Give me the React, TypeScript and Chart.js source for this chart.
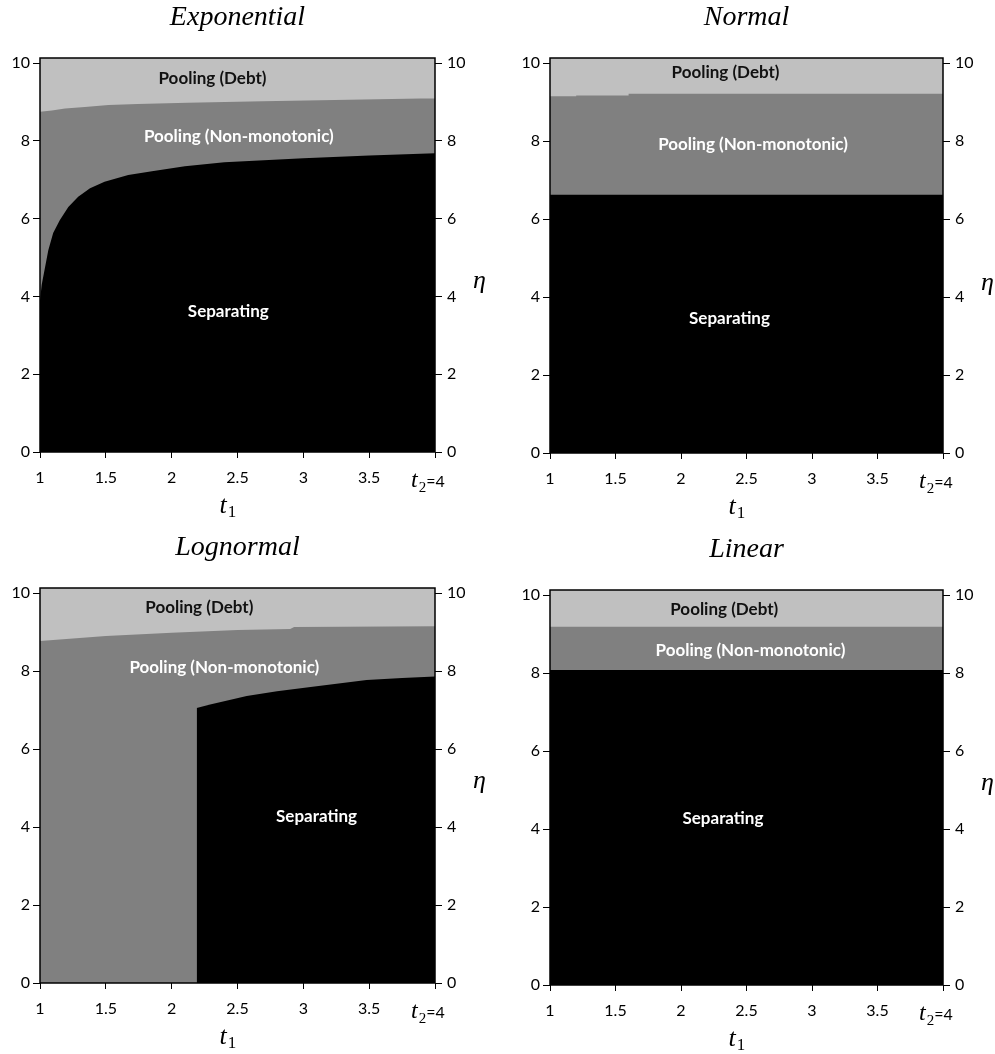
import React, { useEffect, useRef } from "react";
import { Chart, registerables } from "chart.js";
Chart.register(...registerables);

// ---------- data ----------
const T1_TICKS = [1, 1.5, 2, 2.5, 3, 3.5, 4];
const ETA_TICKS = [0, 2, 4, 6, 8, 10];
const ETA_MIN = 0;
const ETA_MAX = 10.13;

// Exponential
const expSepT1 = [1.0, 1.013, 1.03, 1.063, 1.1, 1.15, 1.215, 1.29, 1.38, 1.49, 1.67, 1.85, 2.1, 2.4, 2.7, 3.0, 3.5, 4.0];
const expSep = [3.9, 4.3, 4.6, 5.19, 5.63, 5.96, 6.3, 6.56, 6.78, 6.95, 7.12, 7.22, 7.35, 7.45, 7.5, 7.55, 7.62, 7.68];
const expDebtT1 = [1.0, 1.09, 1.19, 1.34, 1.52, 1.74, 2.12, 2.69, 3.89, 4.0];
const expDebt = [8.75, 8.78, 8.83, 8.87, 8.92, 8.95, 8.98, 9.02, 9.09, 9.09];

// Normal
const normSepT1 = [1.0, 4.0];
const normSep = [6.62, 6.62];
const normDebtT1 = [1.0, 1.2, 1.6, 2.33, 4.0];
const normDebt = [9.12, 9.15, 9.17, 9.21, 9.21];

// Lognormal
const logSepT1 = [2.19, 2.3, 2.57, 2.8, 3.07, 3.48, 3.75, 4.0];
const logSep = [7.05, 7.15, 7.36, 7.48, 7.6, 7.77, 7.82, 7.86];
const logDebtT1 = [1.0, 1.5, 2.0, 2.5, 2.9, 2.93, 4.0];
const logDebt = [8.77, 8.9, 8.98, 9.05, 9.08, 9.13, 9.15];

// Linear
const linSepT1 = [1.0, 4.0];
const linSep = [8.08, 8.08];
const linDebtT1 = [1.0, 4.0];
const linDebt = [9.19, 9.19];

const zip = (xs: number[], ys: number[]) => xs.map((x, i) => ({ x, y: ys[i] }));

// ---------- panels ----------
type Label = { text: string; x: number; y: number; color: string };
type PanelCfg = {
  title: string;
  left: number;
  top: number;
  plot: { l: number; r: number; t: number; b: number };
  sep: { x: number; y: number }[];
  debt: { x: number; y: number }[];
  debtStepped: boolean;
  labels: Label[];
  etaY: number;
};

const CW = 497;
const CH = 527;

const panels: PanelCfg[] = [
  {
    title: "Exponential",
    left: 0,
    top: 0,
    plot: { l: 40, r: 435, t: 58, b: 452 },
    sep: zip(expSepT1, expSep),
    debt: zip(expDebtT1, expDebt),
    debtStepped: false,
    labels: [
      { text: "Pooling (Debt)", x: 2.31, y: 9.61, color: "#111" },
      { text: "Pooling (Non-monotonic)", x: 2.51, y: 8.1, color: "#fff" },
      { text: "Separating", x: 2.43, y: 3.62, color: "#fff" },
    ],
    etaY: 281,
  },
  {
    title: "Normal",
    left: 498,
    top: 0,
    plot: { l: 52, r: 445, t: 58, b: 453 },
    sep: zip(normSepT1, normSep),
    debt: zip(normDebtT1, normDebt),
    debtStepped: true,
    labels: [
      { text: "Pooling (Debt)", x: 2.34, y: 9.77, color: "#111" },
      { text: "Pooling (Non-monotonic)", x: 2.55, y: 7.9, color: "#fff" },
      { text: "Separating", x: 2.37, y: 3.46, color: "#fff" },
    ],
    etaY: 283,
  },
  {
    title: "Lognormal",
    left: 0,
    top: 527,
    plot: { l: 40, r: 435, t: 61, b: 456 },
    sep: zip(logSepT1, logSep),
    debt: zip(logDebtT1, logDebt),
    debtStepped: false,
    labels: [
      { text: "Pooling (Debt)", x: 2.21, y: 9.64, color: "#111" },
      { text: "Pooling (Non-monotonic)", x: 2.4, y: 8.09, color: "#fff" },
      { text: "Separating", x: 3.1, y: 4.28, color: "#fff" },
    ],
    etaY: 254,
  },
  {
    title: "Linear",
    left: 498,
    top: 527,
    plot: { l: 52, r: 445, t: 63, b: 458 },
    sep: zip(linSepT1, linSep),
    debt: zip(linDebtT1, linDebt),
    debtStepped: false,
    labels: [
      { text: "Pooling (Debt)", x: 2.33, y: 9.64, color: "#111" },
      { text: "Pooling (Non-monotonic)", x: 2.53, y: 8.59, color: "#fff" },
      { text: "Separating", x: 2.32, y: 4.28, color: "#fff" },
    ],
    etaY: 256,
  },
];

const TICK_FONT = { family: "Lato, 'Open Sans', sans-serif", size: 16 };
const SERIF_IT = "italic 28px 'Liberation Serif', serif";

function makeDecor(cfg: PanelCfg) {
  return {
    id: "decor",
    beforeDatasetsDraw(chart: any) {
      const { ctx, chartArea: a } = chart;
      ctx.save();
      ctx.fillStyle = "#c0c0c0";
      ctx.fillRect(a.left, a.top, a.right - a.left, a.bottom - a.top);
      ctx.restore();
    },
    afterDatasetsDraw(chart: any) {
      const { ctx, chartArea: a, scales } = chart;
      ctx.save();
      // region labels
      ctx.font = "bold 17px Lato, 'Open Sans', sans-serif";
      ctx.textAlign = "center";
      ctx.textBaseline = "middle";
      for (const lb of cfg.labels) {
        ctx.fillStyle = lb.color;
        ctx.fillText(lb.text, scales.x.getPixelForValue(lb.x), scales.y.getPixelForValue(lb.y));
      }
      // border
      ctx.strokeStyle = "#000";
      ctx.lineWidth = 1.5;
      ctx.strokeRect(a.left, a.top, a.right - a.left, a.bottom - a.top);
      ctx.restore();
    },
    afterDraw(chart: any) {
      const { ctx, chartArea: a } = chart;
      ctx.save();
      ctx.fillStyle = "#000";
      // title
      ctx.font = SERIF_IT;
      ctx.textAlign = "center";
      ctx.textBaseline = "middle";
      ctx.fillText(cfg.title, (a.left + a.right) / 2, a.top - 40);
      // t1 label
      ctx.textAlign = "left";
      ctx.textBaseline = "alphabetic";
      const cx = (a.left + a.right) / 2 - 18;
      ctx.font = "italic 26px 'Liberation Serif', serif";
      ctx.fillText("t", cx, a.bottom + 61);
      const tw = ctx.measureText("t").width;
      ctx.font = "17px 'Liberation Serif', serif";
      ctx.fillText("1", cx + tw + 1, a.bottom + 65);
      // t2 = 4
      let x = a.right - 24;
      ctx.font = "italic 24px 'Liberation Serif', serif";
      ctx.fillText("t", x, a.bottom + 35);
      x += ctx.measureText("t").width + 1;
      ctx.font = "15px 'Liberation Serif', serif";
      ctx.fillText("2", x, a.bottom + 40);
      x += ctx.measureText("2").width;
      ctx.font = "16px Lato, 'Open Sans', sans-serif";
      ctx.fillText("=4", x, a.bottom + 35);
      // eta
      ctx.font = "italic 26px 'Liberation Serif', serif";
      ctx.textBaseline = "middle";
      ctx.fillText("η", a.right + 38, cfg.etaY);
      ctx.restore();
    },
  };
}

function Panel({ cfg }: { cfg: PanelCfg }) {
  const ref = useRef<HTMLCanvasElement | null>(null);
  useEffect(() => {
    if (!ref.current) return;
    const p = cfg.plot;
    const rightAxisW = 40;
    const xAxisH = 40;
    const yAxisCommon = (pos: "left" | "right", w: number, pad: number) => ({
      type: "linear" as const,
      axis: "y" as const,
      position: pos,
      min: ETA_MIN,
      max: ETA_MAX,
      afterBuildTicks: (s: any) => {
        s.ticks = ETA_TICKS.map((v) => ({ value: v }));
      },
      ticks: { font: TICK_FONT, color: "#000", padding: pad },
      grid: { drawOnChartArea: false, drawTicks: true, tickLength: 7, color: "#000", lineWidth: 1 },
      border: { display: false },
      afterFit: (s: any) => {
        s.width = w;
      },
    });
    const chart = new Chart(ref.current, {
      type: "line",
      data: {
        datasets: [
          {
            data: cfg.sep,
            fill: "origin",
            backgroundColor: "#000000",
            borderColor: "transparent",
            borderWidth: 0,
            pointRadius: 0,
            tension: 0,
            xAxisID: "x",
            yAxisID: "y",
          },
          {
            data: cfg.debt,
            fill: "origin",
            backgroundColor: "#808080",
            borderColor: "transparent",
            borderWidth: 0,
            pointRadius: 0,
            stepped: cfg.debtStepped ? "after" : false,
            tension: 0,
            xAxisID: "x",
            yAxisID: "y",
          },
        ],
      },
      options: {
        animation: false,
        responsive: false,
        maintainAspectRatio: false,
        events: [],
        layout: {
          padding: {
            left: 0,
            top: p.t,
            right: CW - p.r - rightAxisW,
            bottom: CH - p.b - xAxisH,
          },
        },
        plugins: { legend: { display: false }, tooltip: { enabled: false }, title: { display: false } },
        scales: {
          x: {
            type: "linear",
            position: "bottom",
            min: 1,
            max: 4,
            afterBuildTicks: (s: any) => {
              s.ticks = T1_TICKS.map((v) => ({ value: v }));
            },
            ticks: {
              font: TICK_FONT,
              color: "#000",
              padding: 10,
              maxRotation: 0,
              autoSkip: false,
              callback: (v: any) => (Number(v) === 4 ? "" : String(v)),
            },
            grid: { drawOnChartArea: false, drawTicks: true, tickLength: 6, color: "#000", lineWidth: 1 },
            border: { display: false },
            afterFit: (s: any) => {
              s.height = xAxisH;
            },
          },
          y: yAxisCommon("left", p.l, 3),
          y2: yAxisCommon("right", rightAxisW, 5),
        },
      } as any,
      plugins: [makeDecor(cfg)],
    });
    return () => chart.destroy();
  }, [cfg]);
  return (
    <canvas
      ref={ref}
      width={CW}
      height={CH}
      style={{ position: "absolute", left: cfg.left, top: cfg.top, width: CW, height: CH }}
    />
  );
}

export default function App() {
  return (
    <div style={{ position: "absolute", left: 0, top: 0, width: 995, height: 1054, background: "#fff" }}>
      {panels.map((cfg) => (
        <Panel key={cfg.title} cfg={cfg} />
      ))}
    </div>
  );
}
